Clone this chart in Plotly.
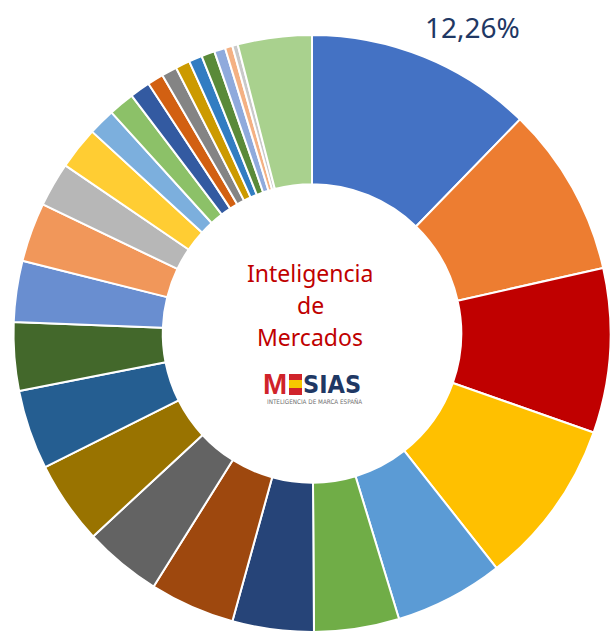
import plotly.graph_objects as go

W, H = 611, 632

categories = [f"Categoría {i}" for i in range(1, 29)]
values = [12.26, 9.2, 8.9, 9.0, 5.9, 4.6, 4.4, 4.6, 4.2, 4.5, 4.3, 3.7, 3.3, 3.2,
          2.4, 2.3, 1.45, 1.4, 1.1, 0.87, 0.83, 0.78, 0.72, 0.72, 0.6, 0.4, 0.3, 4.0]
colors = ["#4472C4", "#ED7D31", "#C00000", "#FFC000", "#5B9BD5", "#70AD47",
          "#264478", "#9E480E", "#636363", "#997300", "#255E91", "#43682B",
          "#698ED0", "#F1975A", "#B7B7B7", "#FFCD33", "#7CAFDD", "#8CC168",
          "#335AA1", "#D26012", "#848484", "#CC9A00", "#327DC2", "#5A8A39",
          "#8FAADC", "#F4B183", "#C9C9C9", "#A9D18E"]
label_text = "12,26%"
center_lines = ["Inteligencia", "de", "Mercados"]

def px(x):
    return x / W

def py(y):
    return 1 - y / H

fig = go.Figure(go.Pie(
    labels=categories, values=values, sort=False, direction="clockwise",
    rotation=0, hole=0.5,
    marker=dict(colors=colors, line=dict(color="white", width=2)),
    textinfo="none", hoverinfo="label+percent",
    domain=dict(x=[13 / W, 1.0], y=[0.0, 597 / H]),
    showlegend=False,
))

ann = []
ann.append(dict(x=px(472), y=py(27), text=label_text, showarrow=False,
                font=dict(family="Noto Sans", size=28, color="#1F3864"),
                xanchor="center", yanchor="middle"))
for i, t in enumerate(center_lines):
    ann.append(dict(x=px(310), y=py(273 + 32 * i), text=t, showarrow=False,
                    font=dict(family="Noto Sans", size=23, color="#C00000"),
                    xanchor="center", yanchor="middle"))
ann.append(dict(x=px(289), y=py(384), text="<b>M</b>", showarrow=False,
                font=dict(family="Liberation Sans", size=29, color="#D0232A"),
                xanchor="right", yanchor="middle"))
ann.append(dict(x=px(301), y=py(384), text="<b>SIAS</b>", showarrow=False,
                font=dict(family="Liberation Sans Narrow, DejaVu Sans Condensed, Liberation Sans",
                          size=25, color="#1F3864"),
                xanchor="left", yanchor="middle"))
ann.append(dict(x=px(314), y=py(401), text="INTELIGENCIA DE MARCA ESPAÑA", showarrow=False,
                font=dict(family="Liberation Sans Narrow, DejaVu Sans Condensed, Liberation Sans",
                          size=6.3, color="#6F6F6F"),
                xanchor="center", yanchor="middle"))

shapes = [
    dict(type="rect", xref="paper", yref="paper", x0=px(289), x1=px(302),
         y0=py(380), y1=py(374), fillcolor="#D0232A", line=dict(width=0)),
    dict(type="rect", xref="paper", yref="paper", x0=px(289), x1=px(302),
         y0=py(388), y1=py(380), fillcolor="#F7C800", line=dict(width=0)),
    dict(type="rect", xref="paper", yref="paper", x0=px(289), x1=px(302),
         y0=py(395), y1=py(388), fillcolor="#D0232A", line=dict(width=0)),
]

fig.update_layout(width=W, height=H, margin=dict(l=0, r=0, t=0, b=0),
                  paper_bgcolor="white", plot_bgcolor="white",
                  annotations=ann, shapes=shapes)
fig.write_html("out.html", config={"displayModeBar": False},
               post_script="document.body.style.margin='0';document.body.style.overflow='hidden';")
